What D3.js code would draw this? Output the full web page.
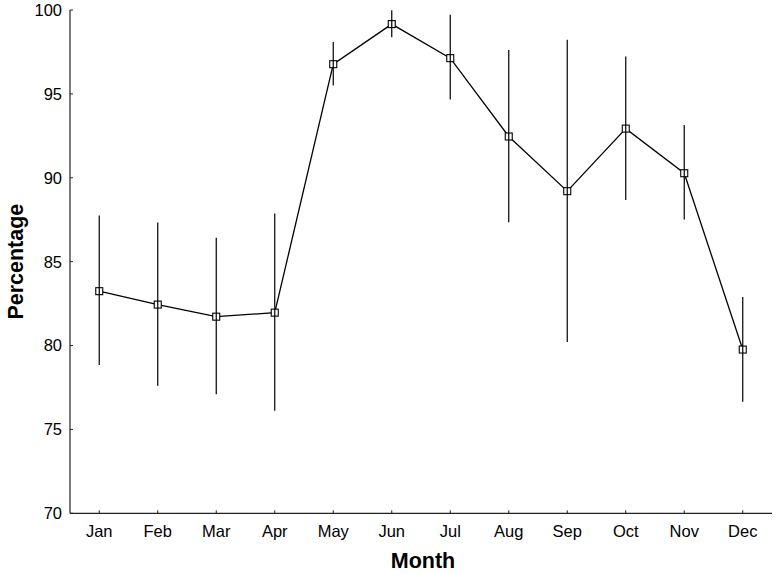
<!DOCTYPE html>
<html><head><meta charset="utf-8">
<script src="https://cdn.jsdelivr.net/npm/d3@7"></script>
<style>body{margin:0;background:#fff}svg{display:block}text{font-family:"Liberation Sans",Arial,sans-serif}</style>
</head><body><svg id="c" width="776" height="574"></svg>
<script>
const months = ["Jan","Feb","Mar","Apr","May","Jun","Jul","Aug","Sep","Oct","Nov","Dec"];
const means  = [83.24,82.44,81.72,81.96,96.77,99.16,97.13,92.46,89.2,92.93,90.27,79.76];
const upper  = [87.75,87.33,86.43,87.87,98.09,99.99,99.71,97.61,98.22,97.23,93.14,82.9];
const lower  = [78.84,77.61,77.1,76.12,95.5,98.38,94.66,87.35,80.21,88.68,87.51,76.65];
const yTicks = [70,75,80,85,90,95,100];

const svg = d3.select("#c");
const L=70, R=772, T=10, B=513.3;
const x = d3.scalePoint().domain(months).range([L,R]).padding(0.5);
const y = d3.scaleLinear().domain([70,100]).range([B,T]);

// axes
svg.append("line").attr("x1",L).attr("x2",L).attr("y1",T).attr("y2",B).attr("stroke","#222").attr("stroke-width",1.2);
svg.append("line").attr("x1",L).attr("x2",R).attr("y1",B).attr("y2",B).attr("stroke","#222").attr("stroke-width",1.2);
yTicks.forEach(t=>{
  svg.append("line").attr("x1",L).attr("x2",L+3).attr("y1",y(t)).attr("y2",y(t)).attr("stroke","#222");
  svg.append("text").attr("x",L-8).attr("y",y(t)).attr("dy","0.36em").attr("text-anchor","end").attr("font-size",16.5).text(t);
});
months.forEach(m=>{
  svg.append("line").attr("x1",x(m)).attr("x2",x(m)).attr("y1",B).attr("y2",B-3).attr("stroke","#222");
  svg.append("text").attr("x",x(m)).attr("y",B+24).attr("text-anchor","middle").attr("font-size",16.5).text(m);
});
svg.append("text").attr("x",(L+R)/2+2).attr("y",568).attr("text-anchor","middle").attr("font-size",21.5).attr("font-weight","bold").text("Month");
svg.append("text").attr("transform",`translate(23,${(T+B)/2}) rotate(-90)`).attr("text-anchor","middle").attr("font-size",21.5).attr("font-weight","bold").text("Percentage");

const data = months.map((m,i)=>({m,v:means[i],lo:lower[i],hi:upper[i]}));
svg.append("path").datum(data).attr("fill","none").attr("stroke","#000").attr("stroke-width",1.3)
  .attr("d",d3.line().x(d=>x(d.m)).y(d=>y(d.v)));
svg.selectAll("rect.pt").data(data).join("rect").attr("class","pt")
  .attr("x",d=>x(d.m)-3.5).attr("y",d=>y(d.v)-3.5).attr("width",7).attr("height",7)
  .attr("fill","#fff").attr("stroke","#000").attr("stroke-width",1.1);
svg.selectAll("line.err").data(data).join("line").attr("class","err")
  .attr("x1",d=>x(d.m)).attr("x2",d=>x(d.m)).attr("y1",d=>y(d.lo)).attr("y2",d=>y(d.hi))
  .attr("stroke","#000").attr("stroke-width",1.2);
</script></body></html>
